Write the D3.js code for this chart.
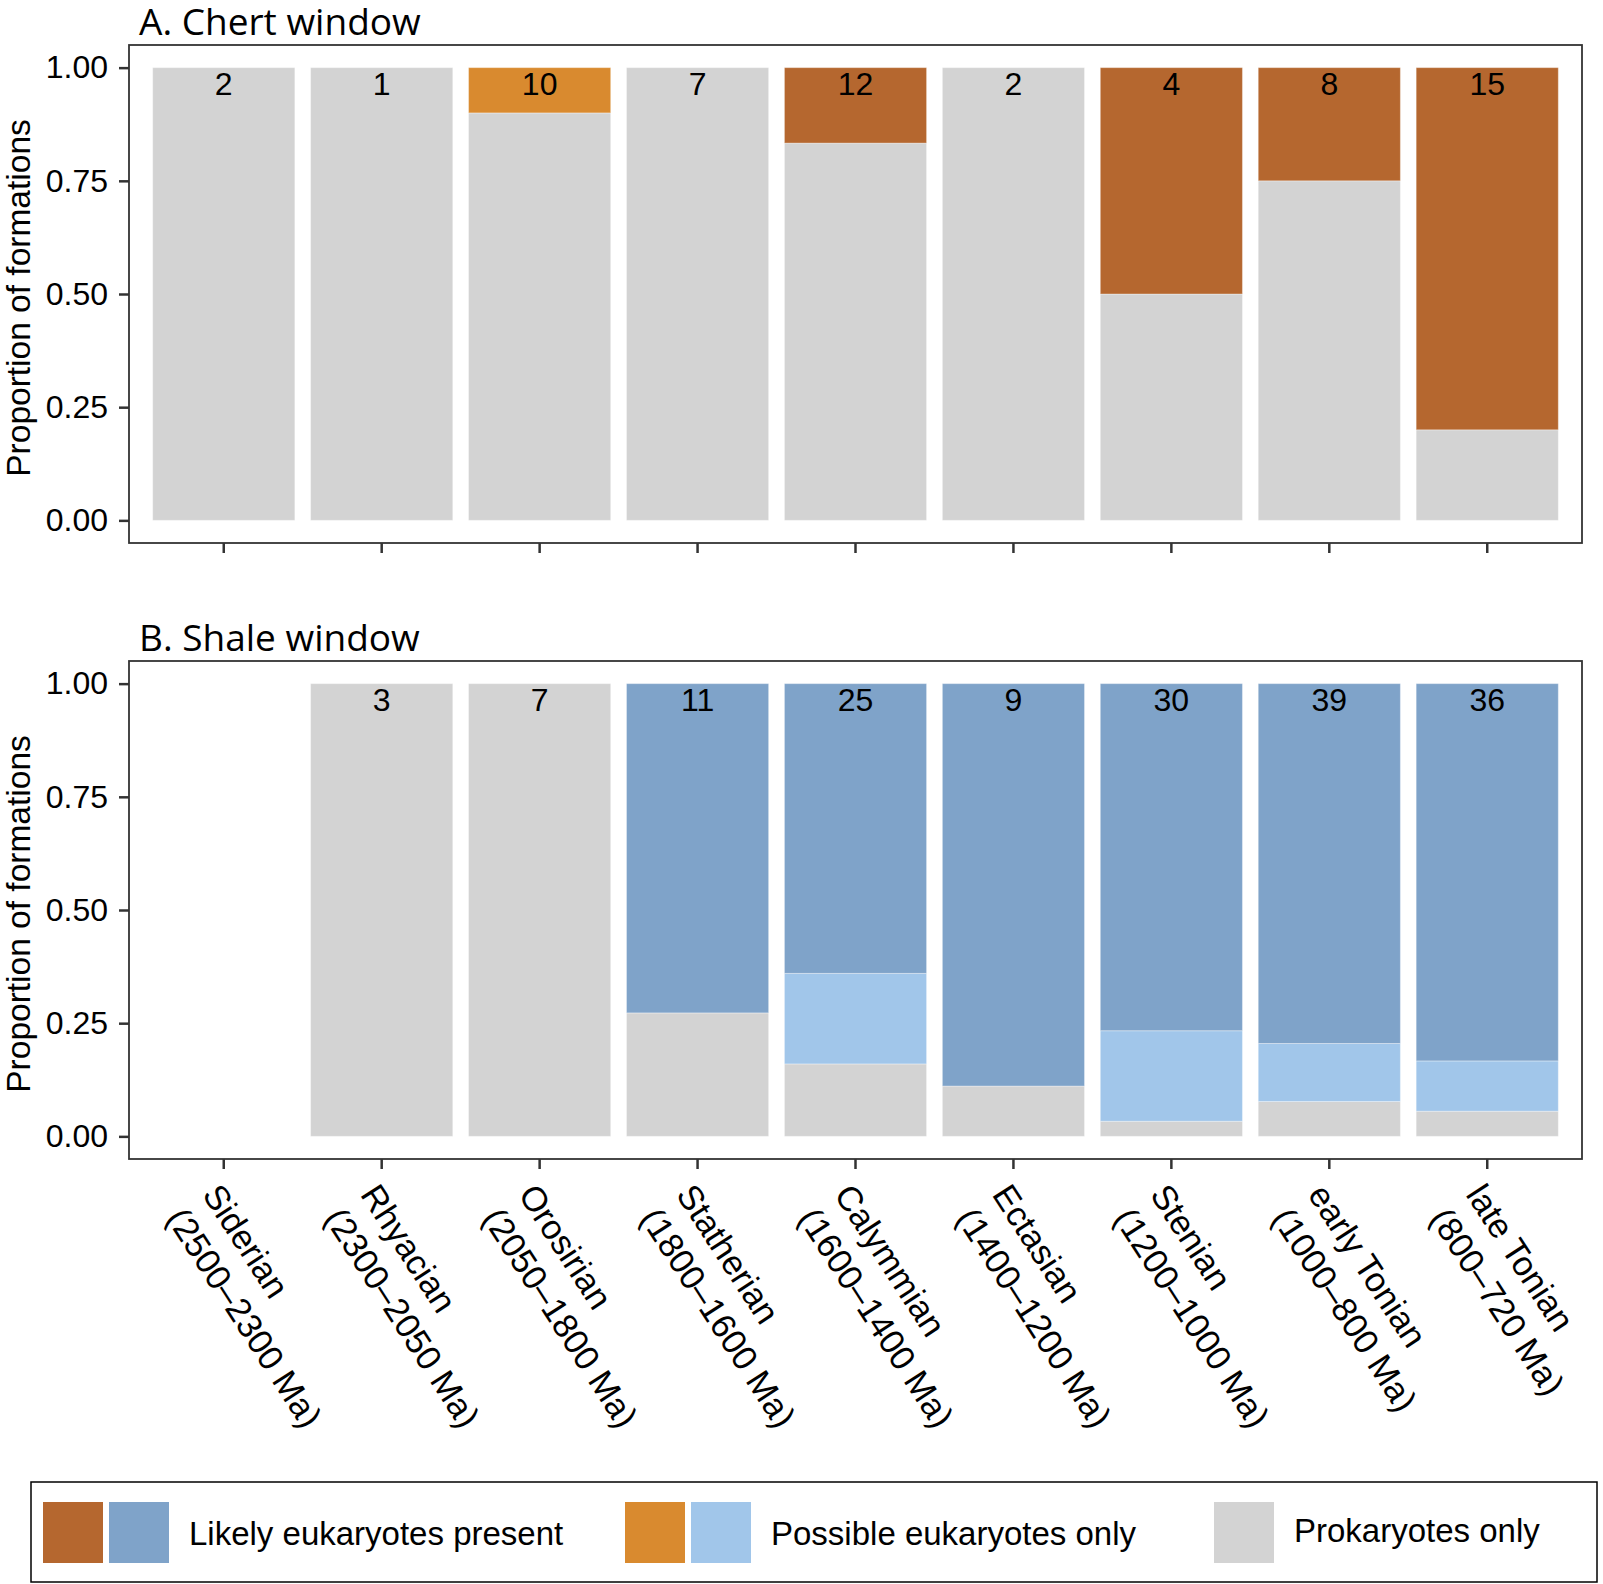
<!DOCTYPE html>
<html>
<head>
<meta charset="utf-8">
<script src="https://cdn.jsdelivr.net/npm/d3@7"></script>
<style>
  body { margin: 0; background: #fff; }
</style>
</head>
<body>
<div id="chart"></div>
<script>
// Geological periods (x axis)
const periodNames = ["Siderian", "Rhyacian", "Orosirian", "Statherian", "Calymmian", "Ectasian", "Stenian", "early Tonian", "late Tonian"];
const periodRanges = ["(2500–2300 Ma)", "(2300–2050 Ma)", "(2050–1800 Ma)", "(1800–1600 Ma)", "(1600–1400 Ma)", "(1400–1200 Ma)", "(1200–1000 Ma)", "(1000–800 Ma)", "(800–720 Ma)"];

// formations per period, and how many hold likely / possible eukaryotes
const chertTotal    = [2, 1, 10, 7, 12, 2, 4, 8, 15];
const chertLikely   = [0, 0, 0, 0, 2, 0, 2, 2, 12];
const chertPossible = [0, 0, 1, 0, 0, 0, 0, 0, 0];

const shaleTotal    = [0, 3, 7, 11, 25, 9, 30, 39, 36];
const shaleLikely   = [0, 0, 0, 8, 16, 8, 23, 31, 30];
const shalePossible = [0, 0, 0, 0, 5, 0, 6, 5, 4];

const yTicks = [0, 0.25, 0.5, 0.75, 1];

const chertColors = { likely: "#b5672f", possible: "#d98a2f", prok: "#d3d3d3" };
const shaleColors = { likely: "#7fa3c9", possible: "#a1c6ea", prok: "#d3d3d3" };

const width = 1603;
const height = 1584;
const left = 129, right = 1582;
const sans = "'Liberation Sans', Arial, Helvetica, sans-serif";
const titleFont = "'Open Sans', 'Noto Sans', sans-serif";

const svg = d3.select("#chart")
    .append("svg")
    .attr("width", width)
    .attr("height", height)
    .attr("font-family", sans);

// ggplot style discrete scale: bar width 0.9, 0.6 expansion each side
const x = d3.scaleBand()
    .domain(periodNames)
    .range([left, right])
    .paddingInner(0.1)
    .paddingOuter(0.15);

function drawPanel(title, total, likely, possible, colors, top, bottom, withLabels) {
    const exp = (bottom - top) * 0.05 / 1.1;
    const y = d3.scaleLinear().domain([0, 1]).range([bottom - exp, top + exp]);

    const rows = periodNames.map((p, i) => {
        const n = total[i];
        return {
            period: p,
            total: n,
            prok: n ? (n - likely[i] - possible[i]) / n : 0,
            possible: n ? possible[i] / n : 0,
            likely: n ? likely[i] / n : 0
        };
    });

    const stack = d3.stack().keys(["prok", "possible", "likely"]);
    const series = stack(rows);

    const g = svg.append("g");

    // stacked bars
    g.selectAll("g.layer")
        .data(series)
        .join("g")
        .attr("class", "layer")
        .attr("fill", d => colors[d.key])
        .selectAll("rect")
        .data(d => d.filter(v => v[1] - v[0] > 0))
        .join("rect")
        .attr("x", d => x(d.data.period))
        .attr("width", x.bandwidth())
        .attr("y", d => y(d[1]))
        .attr("height", d => y(d[0]) - y(d[1]))
        .attr("stroke", "#ffffff")
        .attr("stroke-opacity", 0.35)
        .attr("stroke-width", 1);

    // number of formations on top of each bar
    g.selectAll("text.count")
        .data(rows.filter(d => d.total > 0))
        .join("text")
        .attr("class", "count")
        .attr("x", d => x(d.period) + x.bandwidth() / 2)
        .attr("y", y(1) + 27)
        .attr("text-anchor", "middle")
        .attr("font-size", 32)
        .attr("fill", "#000")
        .text(d => d.total);

    // panel border
    g.append("rect")
        .attr("x", left)
        .attr("y", top)
        .attr("width", right - left)
        .attr("height", bottom - top)
        .attr("fill", "none")
        .attr("stroke", "#333")
        .attr("stroke-width", 1.8);

    // y axis
    const yAxis = g.append("g")
        .attr("transform", `translate(${left},0)`)
        .call(d3.axisLeft(y).tickValues(yTicks).tickFormat(d3.format(".2f")).tickSize(10).tickPadding(11));
    yAxis.select(".domain").remove();
    yAxis.selectAll(".tick line").attr("stroke", "#333").attr("stroke-width", 2.5);
    yAxis.selectAll(".tick text")
        .attr("font-size", 32)
        .attr("font-family", sans)
        .attr("fill", "#000");

    // x axis ticks
    const xAxis = g.append("g")
        .attr("transform", `translate(0,${bottom})`)
        .call(d3.axisBottom(x).tickSize(10).tickFormat(""));
    xAxis.select(".domain").remove();
    xAxis.selectAll(".tick line").attr("stroke", "#333").attr("stroke-width", 2.5);

    // y axis title
    g.append("text")
        .attr("transform", `translate(30,${(top + bottom) / 2 + 4}) rotate(-90)`)
        .attr("text-anchor", "middle")
        .attr("font-size", 33.5)
        .attr("fill", "#000")
        .text("Proportion of formations");

    // panel title
    g.append("text")
        .attr("x", 139)
        .attr("y", top - 10)
        .attr("font-family", titleFont)
        .attr("font-size", 37)
        .attr("fill", "#000")
        .text(title);

    if (withLabels) {
        const lab = g.selectAll("g.xlab")
            .data(periodNames)
            .join("g")
            .attr("class", "xlab")
            .attr("transform", d => `translate(${x(d) + x.bandwidth() / 2 + 8},${bottom + 16}) rotate(57)`);
        lab.append("text")
            .attr("y", 36)
            .attr("font-size", 34.5)
            .attr("fill", "#000")
            .text(d => d);
        lab.append("text")
            .attr("y", 79)
            .attr("font-size", 34.5)
            .attr("fill", "#000")
            .text((d, i) => periodRanges[i]);
    }
}

drawPanel("A. Chert window", chertTotal, chertLikely, chertPossible, chertColors, 45, 543, false);
drawPanel("B. Shale window", shaleTotal, shaleLikely, shalePossible, shaleColors, 661, 1159, true);

// legend
const legendItems = [
    { label: "Likely eukaryotes present", fills: [chertColors.likely, shaleColors.likely], x: 43 },
    { label: "Possible eukaryotes only", fills: [chertColors.possible, shaleColors.possible], x: 625 },
    { label: "Prokaryotes only", fills: [chertColors.prok], x: 1214 }
];

const legend = svg.append("g");
legend.append("rect")
    .attr("x", 31)
    .attr("y", 1482)
    .attr("width", 1566)
    .attr("height", 100)
    .attr("fill", "#fff")
    .attr("stroke", "#000")
    .attr("stroke-width", 1.5);

const item = legend.selectAll("g.item")
    .data(legendItems)
    .join("g")
    .attr("class", "item")
    .attr("transform", d => `translate(${d.x},1502)`);

item.selectAll("rect")
    .data(d => d.fills)
    .join("rect")
    .attr("x", (d, i) => i * 66)
    .attr("width", 60)
    .attr("height", 61)
    .attr("fill", d => d);

item.append("text")
    .attr("x", d => d.fills.length * 66 + 14)
    .attr("y", d => d.fills.length === 1 ? 40 : 43)
    .attr("font-size", 33)
    .attr("fill", "#000")
    .text(d => d.label);
</script>
</body>
</html>
